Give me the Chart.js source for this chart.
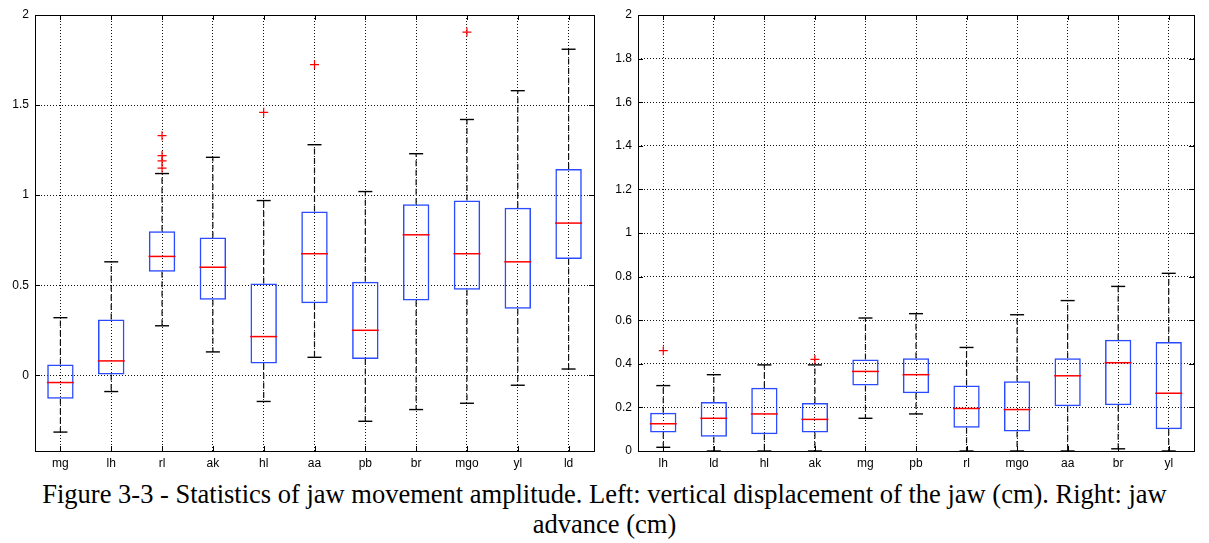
<!DOCTYPE html>
<html>
<head>
<meta charset="utf-8">
<script src="https://cdn.jsdelivr.net/npm/chart.js@4.4.1/dist/chart.umd.min.js"></script>
<style>
  html, body { margin: 0; padding: 0; background: #fff; }
  body { width: 1209px; height: 543px; position: relative; overflow: hidden; }
  #left { position: absolute; left: 0; top: 0; }
  #right { position: absolute; left: 609px; top: 0; }
  #caption {
    position: absolute; left: 0; top: 479px; width: 1209px;
    text-align: center; white-space: nowrap; color: #000;
    font-family: "Liberation Serif", "Times New Roman", serif;
    font-size: 26.5px; line-height: 30px;
  }
</style>
</head>
<body>
<canvas id="left" width="609" height="475"></canvas>
<canvas id="right" width="600" height="475"></canvas>
<div id="caption">Figure 3-3 - Statistics of jaw movement amplitude. Left: vertical displacement of the jaw (cm). Right: jaw<br>advance (cm)</div>
<script>
// left panel - vertical displacement (cm)
const leftCats = ["mg", "lh", "rl", "ak", "hl", "aa", "pb", "br", "mgo", "yl", "ld"];
const leftHigh = [0.32, 0.63, 1.12, 1.21, 0.97, 1.28, 1.02, 1.23, 1.42, 1.58, 1.81];
const leftQ3 = [0.06, 0.31, 0.80, 0.765, 0.51, 0.91, 0.52, 0.95, 0.97, 0.93, 1.145];
const leftMed = [-0.04, 0.08, 0.66, 0.60, 0.215, 0.675, 0.25, 0.78, 0.675, 0.63, 0.845];
const leftQ1 = [-0.13, 0.005, 0.575, 0.42, 0.065, 0.40, 0.09, 0.415, 0.475, 0.37, 0.645];
const leftLow = [-0.315, -0.09, 0.275, 0.13, -0.145, 0.10, -0.255, -0.19, -0.155, -0.055, 0.035];
const leftOut = [[], [], [1.33, 1.22, 1.19, 1.15], [], [1.46], [1.725], [], [], [1.905], [], []];

// right panel - jaw advance (cm)
const rightCats = ["lh", "ld", "hl", "ak", "mg", "pb", "rl", "mgo", "aa", "br", "yl"];
const rightHigh = [0.30, 0.35, 0.395, 0.395, 0.61, 0.63, 0.475, 0.625, 0.69, 0.755, 0.815];
const rightQ3 = [0.175, 0.225, 0.29, 0.22, 0.42, 0.425, 0.30, 0.32, 0.425, 0.51, 0.50];
const rightMed = [0.125, 0.15, 0.17, 0.145, 0.365, 0.35, 0.195, 0.19, 0.345, 0.405, 0.265];
const rightQ1 = [0.085, 0.065, 0.077, 0.085, 0.30, 0.265, 0.107, 0.09, 0.205, 0.21, 0.10];
const rightLow = [0.017, 0, 0, 0, 0.15, 0.17, 0, 0, 0, 0.01, 0];
const rightOut = [[0.46], [], [], [0.42], [], [], [], [], [], [], []];

const tickFont = { family: "Liberation Sans, Arial, sans-serif", size: 12 };

// matlab style box: full frame + ticks pointing inward
const framePlugin = {
  id: "frame",
  afterDraw(chart) {
    const { ctx, chartArea: a, scales } = chart;
    ctx.save();
    ctx.strokeStyle = "#000";
    ctx.lineWidth = 1;
    ctx.beginPath();
    scales.y.ticks.forEach(t => {
      const y = Math.round(scales.y.getPixelForValue(t.value)) + 0.5;
      ctx.moveTo(a.left, y); ctx.lineTo(a.left + 5, y);
      ctx.moveTo(a.right - 5, y); ctx.lineTo(a.right, y);
    });
    scales.x.ticks.forEach((t, i) => {
      const x = Math.round(scales.x.getPixelForTick(i)) + 0.5;
      ctx.moveTo(x, a.bottom); ctx.lineTo(x, a.bottom - 5);
      ctx.moveTo(x, a.top); ctx.lineTo(x, a.top + 5);
    });
    ctx.stroke();
    ctx.strokeRect(Math.round(a.left) + 0.5, Math.round(a.top) + 0.5,
      Math.round(a.right - a.left), Math.round(a.bottom - a.top));
    ctx.restore();
  }
};

// "2", "1.5", "0.8" rather than "2.0"
const plainNum = v => String(Math.round(v * 100) / 100);

function makeChart(id, cats, low, q1, med, q3, high, outl, yMin, yStep, yWidth) {
  const whisk = [];
  cats.forEach((c, i) => {
    whisk.push({ x: c, y: q3[i] }, { x: c, y: high[i] }, { x: c, y: null });
    whisk.push({ x: c, y: q1[i] }, { x: c, y: low[i] }, { x: c, y: null });
  });
  const caps = [];
  cats.forEach((c, i) => { caps.push({ x: c, y: high[i] }, { x: c, y: low[i] }); });
  const outPts = [];
  cats.forEach((c, i) => outl[i].forEach(v => outPts.push({ x: c, y: v })));

  return new Chart(document.getElementById(id), {
    type: "bar",
    data: {
      labels: cats,
      datasets: [
        {
          type: "bar",
          data: cats.map((c, i) => [q1[i], q3[i]]),
          backgroundColor: "rgba(0,0,0,0)",
          borderColor: "#2a4bff",
          borderWidth: 1.5,
          borderSkipped: false,
          barPercentage: 0.52,
          categoryPercentage: 1,
          grouped: false,
          order: 3
        },
        {
          type: "line",
          data: whisk,
          borderColor: "#111",
          borderWidth: 1.2,
          borderDash: [6, 3.5],
          pointRadius: 0,
          spanGaps: false,
          fill: false,
          order: 4
        },
        {
          type: "line",
          data: caps,
          showLine: false,
          pointStyle: "line",
          pointRadius: 7,
          borderColor: "#000",
          pointBorderColor: "#000",
          pointBorderWidth: 1.4,
          clip: false,
          order: 2
        },
        {
          type: "line",
          data: cats.map((c, i) => ({ x: c, y: med[i] })),
          showLine: false,
          pointStyle: "line",
          pointRadius: 13.5,
          borderColor: "#ff0000",
          pointBorderColor: "#ff0000",
          pointBorderWidth: 1.5,
          order: 1
        },
        {
          type: "line",
          data: outPts,
          showLine: false,
          pointStyle: "cross",
          pointRadius: 4.5,
          borderColor: "#ff0000",
          pointBorderColor: "#ff0000",
          pointBorderWidth: 1.2,
          clip: false,
          order: 0
        }
      ]
    },
    options: {
      responsive: false,
      animation: false,
      devicePixelRatio: 1,
      layout: { padding: { top: 15, right: 2, left: 0, bottom: 0 } },
      plugins: { legend: { display: false }, tooltip: { enabled: false } },
      scales: {
        x: {
          type: "category",
          offset: true,
          grid: { offset: false, color: "#111", lineWidth: 1, drawTicks: false },
          border: { display: false, dash: [1, 2] },
          ticks: { color: "#000", font: tickFont, padding: 5, maxRotation: 0, autoSkip: false },
          afterFit(s) { s.height = 24; }
        },
        y: {
          min: yMin,
          max: 2,
          grid: { color: "#111", lineWidth: 1, drawTicks: false },
          border: { display: false, dash: [1, 2] },
          ticks: { color: "#000", font: tickFont, padding: 6, stepSize: yStep,
            includeBounds: false, callback: plainNum },
          afterFit(s) { s.width = yWidth; }
        }
      }
    },
    plugins: [framePlugin]
  });
}

makeChart("left", leftCats, leftLow, leftQ1, leftMed, leftQ3, leftHigh, leftOut, -0.42, 0.5, 35);
makeChart("right", rightCats, rightLow, rightQ1, rightMed, rightQ3, rightHigh, rightOut, 0, 0.2, 29);
</script>
</body>
</html>
